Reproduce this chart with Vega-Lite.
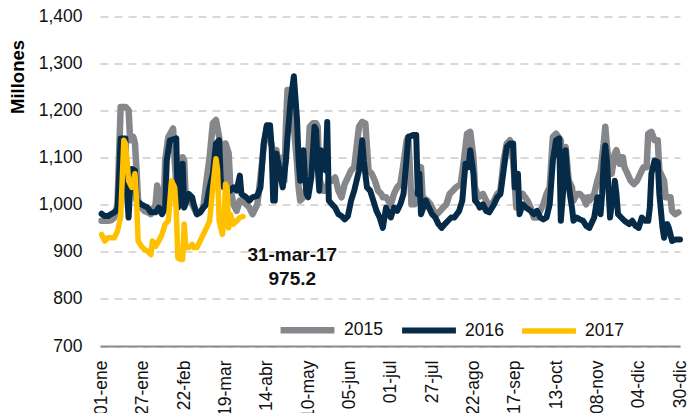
{
  "$schema": "https://vega.github.io/schema/vega-lite/v6.json",
  "width": 580,
  "height": 329.5,
  "autosize": {"type": "none"},
  "padding": {"left": 100, "top": 16.5, "right": 9, "bottom": 67},
  "background": "white",
  "config": {"view": {"stroke": null}, "font": "Liberation Sans"},
  "datasets": {
    "series": [
      {"year":"2015","day":1,"value":966},{"year":"2015","day":3,"value":966},{"year":"2015","day":5,"value":966},{"year":"2015","day":7,"value":967},{"year":"2015","day":9,"value":973},{"year":"2015","day":11,"value":1001},{"year":"2015","day":13,"value":1208},{"year":"2015","day":16,"value":1208},{"year":"2015","day":18,"value":1201},{"year":"2015","day":19,"value":1137},{"year":"2015","day":21,"value":1144},{"year":"2015","day":22,"value":1130},{"year":"2015","day":23,"value":1073},{"year":"2015","day":24,"value":1009},{"year":"2015","day":26,"value":994},{"year":"2015","day":28,"value":987},{"year":"2015","day":30,"value":984},{"year":"2015","day":32,"value":980},{"year":"2015","day":35,"value":1001},{"year":"2015","day":36,"value":1041},{"year":"2015","day":38,"value":1009},{"year":"2015","day":40,"value":987},{"year":"2015","day":41,"value":1094},{"year":"2015","day":43,"value":1144},{"year":"2015","day":46,"value":1162},{"year":"2015","day":47,"value":1094},{"year":"2015","day":49,"value":994},{"year":"2015","day":51,"value":1023},{"year":"2015","day":52,"value":1101},{"year":"2015","day":53,"value":1094},{"year":"2015","day":54,"value":1009},{"year":"2015","day":57,"value":1009},{"year":"2015","day":59,"value":994},{"year":"2015","day":61,"value":980},{"year":"2015","day":63,"value":984},{"year":"2015","day":65,"value":994},{"year":"2015","day":67,"value":1051},{"year":"2015","day":69,"value":1101},{"year":"2015","day":71,"value":1173},{"year":"2015","day":73,"value":1180},{"year":"2015","day":75,"value":1144},{"year":"2015","day":77,"value":1044},{"year":"2015","day":78,"value":1037},{"year":"2015","day":79,"value":1130},{"year":"2015","day":81,"value":1109},{"year":"2015","day":82,"value":1037},{"year":"2015","day":84,"value":1001},{"year":"2015","day":86,"value":987},{"year":"2015","day":88,"value":1009},{"year":"2015","day":90,"value":1009},{"year":"2015","day":92,"value":1001},{"year":"2015","day":94,"value":994},{"year":"2015","day":96,"value":980},{"year":"2015","day":99,"value":1001},{"year":"2015","day":101,"value":1058},{"year":"2015","day":103,"value":1123},{"year":"2015","day":105,"value":1166},{"year":"2015","day":107,"value":1144},{"year":"2015","day":109,"value":1109},{"year":"2015","day":111,"value":1116},{"year":"2015","day":113,"value":1066},{"year":"2015","day":115,"value":1101},{"year":"2015","day":116,"value":1051},{"year":"2015","day":117,"value":1166},{"year":"2015","day":118,"value":1244},{"year":"2015","day":120,"value":1244},{"year":"2015","day":122,"value":1166},{"year":"2015","day":124,"value":1087},{"year":"2015","day":125,"value":1037},{"year":"2015","day":126,"value":1009},{"year":"2015","day":128,"value":1016},{"year":"2015","day":130,"value":1037},{"year":"2015","day":132,"value":1166},{"year":"2015","day":134,"value":1173},{"year":"2015","day":136,"value":1173},{"year":"2015","day":137,"value":1166},{"year":"2015","day":138,"value":1058},{"year":"2015","day":140,"value":1030},{"year":"2015","day":142,"value":1030},{"year":"2015","day":144,"value":1051},{"year":"2015","day":146,"value":1051},{"year":"2015","day":148,"value":1058},{"year":"2015","day":150,"value":1030},{"year":"2015","day":152,"value":1016},{"year":"2015","day":153,"value":1030},{"year":"2015","day":154,"value":1044},{"year":"2015","day":156,"value":1058},{"year":"2015","day":158,"value":1073},{"year":"2015","day":160,"value":1080},{"year":"2015","day":163,"value":1166},{"year":"2015","day":165,"value":1176},{"year":"2015","day":167,"value":1173},{"year":"2015","day":169,"value":1073},{"year":"2015","day":171,"value":1066},{"year":"2015","day":173,"value":1051},{"year":"2015","day":175,"value":1030},{"year":"2015","day":177,"value":1023},{"year":"2015","day":178,"value":1016},{"year":"2015","day":180,"value":1016},{"year":"2015","day":183,"value":1001},{"year":"2015","day":185,"value":1023},{"year":"2015","day":187,"value":1037},{"year":"2015","day":189,"value":1044},{"year":"2015","day":191,"value":1087},{"year":"2015","day":193,"value":1137},{"year":"2015","day":194,"value":1144},{"year":"2015","day":195,"value":1080},{"year":"2015","day":196,"value":1001},{"year":"2015","day":198,"value":1001},{"year":"2015","day":200,"value":1030},{"year":"2015","day":202,"value":1080},{"year":"2015","day":203,"value":1016},{"year":"2015","day":206,"value":1009},{"year":"2015","day":208,"value":1001},{"year":"2015","day":210,"value":987},{"year":"2015","day":212,"value":980},{"year":"2015","day":214,"value":987},{"year":"2015","day":216,"value":994},{"year":"2015","day":218,"value":1001},{"year":"2015","day":220,"value":1023},{"year":"2015","day":222,"value":1030},{"year":"2015","day":224,"value":1037},{"year":"2015","day":227,"value":1044},{"year":"2015","day":229,"value":1094},{"year":"2015","day":231,"value":1151},{"year":"2015","day":233,"value":1155},{"year":"2015","day":235,"value":1101},{"year":"2015","day":236,"value":1037},{"year":"2015","day":238,"value":1016},{"year":"2015","day":241,"value":1023},{"year":"2015","day":243,"value":1009},{"year":"2015","day":245,"value":994},{"year":"2015","day":248,"value":1009},{"year":"2015","day":250,"value":1023},{"year":"2015","day":252,"value":1030},{"year":"2015","day":254,"value":1094},{"year":"2015","day":256,"value":1130},{"year":"2015","day":258,"value":1137},{"year":"2015","day":260,"value":1094},{"year":"2015","day":262,"value":994},{"year":"2015","day":264,"value":1016},{"year":"2015","day":266,"value":1023},{"year":"2015","day":269,"value":1009},{"year":"2015","day":271,"value":994},{"year":"2015","day":273,"value":973},{"year":"2015","day":275,"value":973},{"year":"2015","day":277,"value":987},{"year":"2015","day":279,"value":1001},{"year":"2015","day":281,"value":1023},{"year":"2015","day":283,"value":1037},{"year":"2015","day":285,"value":1144},{"year":"2015","day":287,"value":1151},{"year":"2015","day":290,"value":1137},{"year":"2015","day":291,"value":1051},{"year":"2015","day":293,"value":1123},{"year":"2015","day":295,"value":1051},{"year":"2015","day":297,"value":1037},{"year":"2015","day":298,"value":1009},{"year":"2015","day":300,"value":1023},{"year":"2015","day":302,"value":1023},{"year":"2015","day":304,"value":1016},{"year":"2015","day":306,"value":1001},{"year":"2015","day":307,"value":1016},{"year":"2015","day":308,"value":1009},{"year":"2015","day":311,"value":1023},{"year":"2015","day":313,"value":1051},{"year":"2015","day":315,"value":1073},{"year":"2015","day":317,"value":1130},{"year":"2015","day":318,"value":1166},{"year":"2015","day":319,"value":1123},{"year":"2015","day":321,"value":1073},{"year":"2015","day":322,"value":1066},{"year":"2015","day":324,"value":1109},{"year":"2015","day":325,"value":1116},{"year":"2015","day":326,"value":1101},{"year":"2015","day":327,"value":1087},{"year":"2015","day":328,"value":1101},{"year":"2015","day":329,"value":1101},{"year":"2015","day":330,"value":1080},{"year":"2015","day":331,"value":1073},{"year":"2015","day":334,"value":1051},{"year":"2015","day":336,"value":1044},{"year":"2015","day":338,"value":1051},{"year":"2015","day":340,"value":1066},{"year":"2015","day":342,"value":1080},{"year":"2015","day":344,"value":1080},{"year":"2015","day":345,"value":1151},{"year":"2015","day":347,"value":1155},{"year":"2015","day":349,"value":1137},{"year":"2015","day":351,"value":1137},{"year":"2015","day":352,"value":1073},{"year":"2015","day":355,"value":1051},{"year":"2015","day":356,"value":1016},{"year":"2015","day":358,"value":1016},{"year":"2015","day":359,"value":1016},{"year":"2015","day":360,"value":987},{"year":"2015","day":362,"value":980},{"year":"2015","day":364,"value":984},
      {"year":"2016","day":1,"value":981},{"year":"2016","day":3,"value":976},{"year":"2016","day":5,"value":976},{"year":"2016","day":7,"value":980},{"year":"2016","day":9,"value":984},{"year":"2016","day":11,"value":991},{"year":"2016","day":12,"value":1059},{"year":"2016","day":13,"value":1141},{"year":"2016","day":16,"value":1141},{"year":"2016","day":17,"value":1023},{"year":"2016","day":18,"value":973},{"year":"2016","day":19,"value":1037},{"year":"2016","day":20,"value":1076},{"year":"2016","day":22,"value":1073},{"year":"2016","day":23,"value":1009},{"year":"2016","day":26,"value":1001},{"year":"2016","day":30,"value":994},{"year":"2016","day":32,"value":984},{"year":"2016","day":35,"value":984},{"year":"2016","day":37,"value":994},{"year":"2016","day":39,"value":980},{"year":"2016","day":41,"value":994},{"year":"2016","day":42,"value":1094},{"year":"2016","day":44,"value":1137},{"year":"2016","day":48,"value":1141},{"year":"2016","day":49,"value":994},{"year":"2016","day":51,"value":1009},{"year":"2016","day":52,"value":1087},{"year":"2016","day":53,"value":994},{"year":"2016","day":56,"value":1023},{"year":"2016","day":58,"value":1016},{"year":"2016","day":59,"value":1001},{"year":"2016","day":61,"value":980},{"year":"2016","day":63,"value":984},{"year":"2016","day":65,"value":994},{"year":"2016","day":67,"value":1001},{"year":"2016","day":69,"value":1037},{"year":"2016","day":71,"value":1066},{"year":"2016","day":73,"value":1130},{"year":"2016","day":75,"value":1137},{"year":"2016","day":76,"value":1051},{"year":"2016","day":78,"value":1037},{"year":"2016","day":80,"value":1034},{"year":"2016","day":82,"value":1030},{"year":"2016","day":84,"value":1037},{"year":"2016","day":86,"value":1030},{"year":"2016","day":88,"value":1062},{"year":"2016","day":89,"value":1023},{"year":"2016","day":92,"value":1016},{"year":"2016","day":94,"value":1009},{"year":"2016","day":96,"value":1016},{"year":"2016","day":99,"value":1019},{"year":"2016","day":101,"value":1037},{"year":"2016","day":103,"value":1130},{"year":"2016","day":105,"value":1169},{"year":"2016","day":107,"value":1169},{"year":"2016","day":108,"value":1123},{"year":"2016","day":109,"value":1009},{"year":"2016","day":110,"value":1009},{"year":"2016","day":111,"value":1109},{"year":"2016","day":113,"value":1073},{"year":"2016","day":115,"value":1037},{"year":"2016","day":117,"value":1094},{"year":"2016","day":118,"value":1144},{"year":"2016","day":120,"value":1223},{"year":"2016","day":122,"value":1273},{"year":"2016","day":124,"value":1180},{"year":"2016","day":125,"value":1094},{"year":"2016","day":126,"value":1051},{"year":"2016","day":127,"value":1080},{"year":"2016","day":128,"value":1116},{"year":"2016","day":129,"value":1059},{"year":"2016","day":130,"value":1023},{"year":"2016","day":131,"value":1016},{"year":"2016","day":132,"value":1037},{"year":"2016","day":133,"value":1059},{"year":"2016","day":135,"value":1166},{"year":"2016","day":136,"value":1159},{"year":"2016","day":137,"value":1080},{"year":"2016","day":138,"value":1030},{"year":"2016","day":139,"value":1116},{"year":"2016","day":142,"value":1073},{"year":"2016","day":143,"value":1176},{"year":"2016","day":144,"value":1009},{"year":"2016","day":146,"value":1001},{"year":"2016","day":148,"value":994},{"year":"2016","day":150,"value":980},{"year":"2016","day":152,"value":976},{"year":"2016","day":154,"value":969},{"year":"2016","day":156,"value":976},{"year":"2016","day":158,"value":1009},{"year":"2016","day":160,"value":1030},{"year":"2016","day":163,"value":1073},{"year":"2016","day":165,"value":1137},{"year":"2016","day":166,"value":1094},{"year":"2016","day":168,"value":1037},{"year":"2016","day":170,"value":1030},{"year":"2016","day":172,"value":1009},{"year":"2016","day":174,"value":987},{"year":"2016","day":176,"value":973},{"year":"2016","day":178,"value":951},{"year":"2016","day":180,"value":994},{"year":"2016","day":183,"value":973},{"year":"2016","day":185,"value":994},{"year":"2016","day":187,"value":987},{"year":"2016","day":189,"value":1001},{"year":"2016","day":191,"value":1023},{"year":"2016","day":193,"value":1101},{"year":"2016","day":194,"value":1144},{"year":"2016","day":197,"value":1148},{"year":"2016","day":199,"value":1148},{"year":"2016","day":200,"value":1023},{"year":"2016","day":201,"value":1066},{"year":"2016","day":202,"value":980},{"year":"2016","day":205,"value":1009},{"year":"2016","day":207,"value":994},{"year":"2016","day":209,"value":980},{"year":"2016","day":211,"value":973},{"year":"2016","day":213,"value":959},{"year":"2016","day":215,"value":951},{"year":"2016","day":217,"value":959},{"year":"2016","day":219,"value":966},{"year":"2016","day":221,"value":973},{"year":"2016","day":223,"value":973},{"year":"2016","day":226,"value":987},{"year":"2016","day":228,"value":1009},{"year":"2016","day":230,"value":1087},{"year":"2016","day":232,"value":1080},{"year":"2016","day":233,"value":1116},{"year":"2016","day":235,"value":1066},{"year":"2016","day":236,"value":1009},{"year":"2016","day":238,"value":1001},{"year":"2016","day":239,"value":994},{"year":"2016","day":241,"value":1001},{"year":"2016","day":243,"value":987},{"year":"2016","day":245,"value":984},{"year":"2016","day":248,"value":1001},{"year":"2016","day":250,"value":1016},{"year":"2016","day":252,"value":1023},{"year":"2016","day":254,"value":1073},{"year":"2016","day":256,"value":1123},{"year":"2016","day":258,"value":1130},{"year":"2016","day":260,"value":1130},{"year":"2016","day":261,"value":1037},{"year":"2016","day":263,"value":1066},{"year":"2016","day":264,"value":980},{"year":"2016","day":266,"value":1001},{"year":"2016","day":268,"value":994},{"year":"2016","day":271,"value":987},{"year":"2016","day":273,"value":980},{"year":"2016","day":275,"value":987},{"year":"2016","day":277,"value":973},{"year":"2016","day":279,"value":969},{"year":"2016","day":281,"value":973},{"year":"2016","day":283,"value":1001},{"year":"2016","day":285,"value":1094},{"year":"2016","day":287,"value":1137},{"year":"2016","day":289,"value":1141},{"year":"2016","day":290,"value":966},{"year":"2016","day":292,"value":1051},{"year":"2016","day":293,"value":1116},{"year":"2016","day":294,"value":1066},{"year":"2016","day":296,"value":1016},{"year":"2016","day":297,"value":994},{"year":"2016","day":298,"value":966},{"year":"2016","day":300,"value":973},{"year":"2016","day":302,"value":969},{"year":"2016","day":304,"value":966},{"year":"2016","day":306,"value":955},{"year":"2016","day":308,"value":951},{"year":"2016","day":311,"value":973},{"year":"2016","day":312,"value":994},{"year":"2016","day":313,"value":1016},{"year":"2016","day":314,"value":987},{"year":"2016","day":315,"value":980},{"year":"2016","day":316,"value":1023},{"year":"2016","day":317,"value":1094},{"year":"2016","day":318,"value":1126},{"year":"2016","day":319,"value":1094},{"year":"2016","day":321,"value":973},{"year":"2016","day":322,"value":1001},{"year":"2016","day":323,"value":1001},{"year":"2016","day":324,"value":1051},{"year":"2016","day":325,"value":1023},{"year":"2016","day":326,"value":980},{"year":"2016","day":328,"value":973},{"year":"2016","day":330,"value":966},{"year":"2016","day":333,"value":959},{"year":"2016","day":335,"value":966},{"year":"2016","day":337,"value":955},{"year":"2016","day":339,"value":951},{"year":"2016","day":341,"value":973},{"year":"2016","day":343,"value":966},{"year":"2016","day":345,"value":966},{"year":"2016","day":346,"value":994},{"year":"2016","day":347,"value":1066},{"year":"2016","day":349,"value":1094},{"year":"2016","day":351,"value":1091},{"year":"2016","day":352,"value":1023},{"year":"2016","day":354,"value":951},{"year":"2016","day":355,"value":930},{"year":"2016","day":357,"value":959},{"year":"2016","day":358,"value":951},{"year":"2016","day":360,"value":923},{"year":"2016","day":362,"value":926},{"year":"2016","day":365,"value":926},
      {"year":"2017","day":1,"value":937},{"year":"2017","day":3,"value":923},{"year":"2017","day":5,"value":930},{"year":"2017","day":7,"value":930},{"year":"2017","day":9,"value":930},{"year":"2017","day":11,"value":944},{"year":"2017","day":13,"value":973},{"year":"2017","day":15,"value":1137},{"year":"2017","day":16,"value":1130},{"year":"2017","day":17,"value":1094},{"year":"2017","day":18,"value":1051},{"year":"2017","day":20,"value":1037},{"year":"2017","day":22,"value":1066},{"year":"2017","day":23,"value":1009},{"year":"2017","day":24,"value":923},{"year":"2017","day":26,"value":912},{"year":"2017","day":28,"value":905},{"year":"2017","day":30,"value":901},{"year":"2017","day":32,"value":894},{"year":"2017","day":33,"value":923},{"year":"2017","day":35,"value":912},{"year":"2017","day":37,"value":923},{"year":"2017","day":39,"value":937},{"year":"2017","day":41,"value":959},{"year":"2017","day":43,"value":966},{"year":"2017","day":45,"value":1051},{"year":"2017","day":47,"value":1037},{"year":"2017","day":48,"value":987},{"year":"2017","day":49,"value":887},{"year":"2017","day":51,"value":884},{"year":"2017","day":52,"value":884},{"year":"2017","day":53,"value":959},{"year":"2017","day":54,"value":909},{"year":"2017","day":56,"value":909},{"year":"2017","day":58,"value":916},{"year":"2017","day":59,"value":909},{"year":"2017","day":61,"value":909},{"year":"2017","day":63,"value":923},{"year":"2017","day":65,"value":937},{"year":"2017","day":67,"value":951},{"year":"2017","day":69,"value":966},{"year":"2017","day":71,"value":1037},{"year":"2017","day":73,"value":1098},{"year":"2017","day":74,"value":1073},{"year":"2017","day":75,"value":966},{"year":"2017","day":77,"value":937},{"year":"2017","day":78,"value":966},{"year":"2017","day":79,"value":1044},{"year":"2017","day":80,"value":1037},{"year":"2017","day":81,"value":951},{"year":"2017","day":82,"value":980},{"year":"2017","day":84,"value":959},{"year":"2017","day":86,"value":966},{"year":"2017","day":88,"value":973},{"year":"2017","day":90,"value":975.2}
    ],
    "note": [
      {"label": "31-mar-17", "day": 121, "value": 893},
      {"label": "975.2", "day": 121, "value": 842}
    ]
  },
  "layer": [
    {
      "data": {"name": "series"},
      "mark": {"type": "line", "strokeJoin": "round", "strokeCap": "round"},
      "encoding": {
        "x": {
          "field": "day", "type": "quantitative",
          "scale": {"domain": [0, 365], "nice": false, "zero": false},
          "axis": {
            "title": null,
            "values": [1, 27, 53, 79, 105, 131, 157, 183, 209, 235, 261, 287, 313, 339, 365],
            "labelExpr": "['01-ene','27-ene','22-feb','19-mar','14-abr','10-may','05-jun','01-jul','27-jul','22-ago','17-sep','13-oct','08-nov','04-dic','30-dic'][round((datum.value-1)/26)]",
            "labelAngle": -90, "labelAlign": "right", "labelBaseline": "middle",
            "labelPadding": 14, "ticks": false, "grid": false,
            "domainColor": "#8c8c8c", "domainWidth": 2,
            "labelFont": "Liberation Sans", "labelFontSize": 17.5, "labelColor": "#111111",
            "labelFlush": false, "labelOverlap": false, "labelBound": false
          }
        },
        "y": {
          "field": "value", "type": "quantitative",
          "scale": {"domain": [700, 1400], "nice": false, "zero": false},
          "axis": {
            "values": [700, 800, 900, 1000, 1100, 1200, 1300, 1400],
            "format": ",.0f",
            "domain": false, "ticks": false, "labelPadding": 18,
            "labelFont": "Liberation Sans", "labelFontSize": 17.5, "labelColor": "#111111",
            "grid": true, "gridColor": "#d9d9d9", "gridDash": [8, 6], "gridWidth": 2,
            "title": "Millones", "titleFont": "Liberation Sans", "titleFontSize": 18.5,
            "titleFontWeight": "bold", "titleColor": "#000000",
            "titleX": -83, "titleY": 60, "titleAlign": "center", "titleBaseline": "middle", "titleAngle": -90
          }
        },
        "color": {
          "field": "year", "type": "nominal",
          "scale": {"domain": ["2015", "2016", "2017"], "range": ["#86878a", "#062b49", "#ffc000"]},
          "legend": {
            "title": null, "orient": "none", "direction": "horizontal",
            "legendX": 177, "legendY": 283, "padding": 0,
            "symbolType": "stroke", "symbolSize": 2900, "symbolStrokeWidth": 6,
            "labelFont": "Liberation Sans", "labelFontSize": 17.5, "labelColor": "#111111",
            "labelOffset": 6, "columnPadding": 7
          }
        },
        "strokeWidth": {
          "field": "year", "type": "nominal",
          "scale": {"domain": ["2015", "2016", "2017"], "range": [6.5, 5.5, 5]},
          "legend": null
        }
      }
    },
    {
      "data": {"name": "note"},
      "mark": {"type": "text", "font": "Liberation Sans", "fontWeight": "bold", "fontSize": 19, "align": "center", "baseline": "middle", "color": "#111111"},
      "encoding": {
        "x": {"field": "day", "type": "quantitative"},
        "y": {"field": "value", "type": "quantitative"},
        "text": {"field": "label"}
      }
    }
  ]
}
